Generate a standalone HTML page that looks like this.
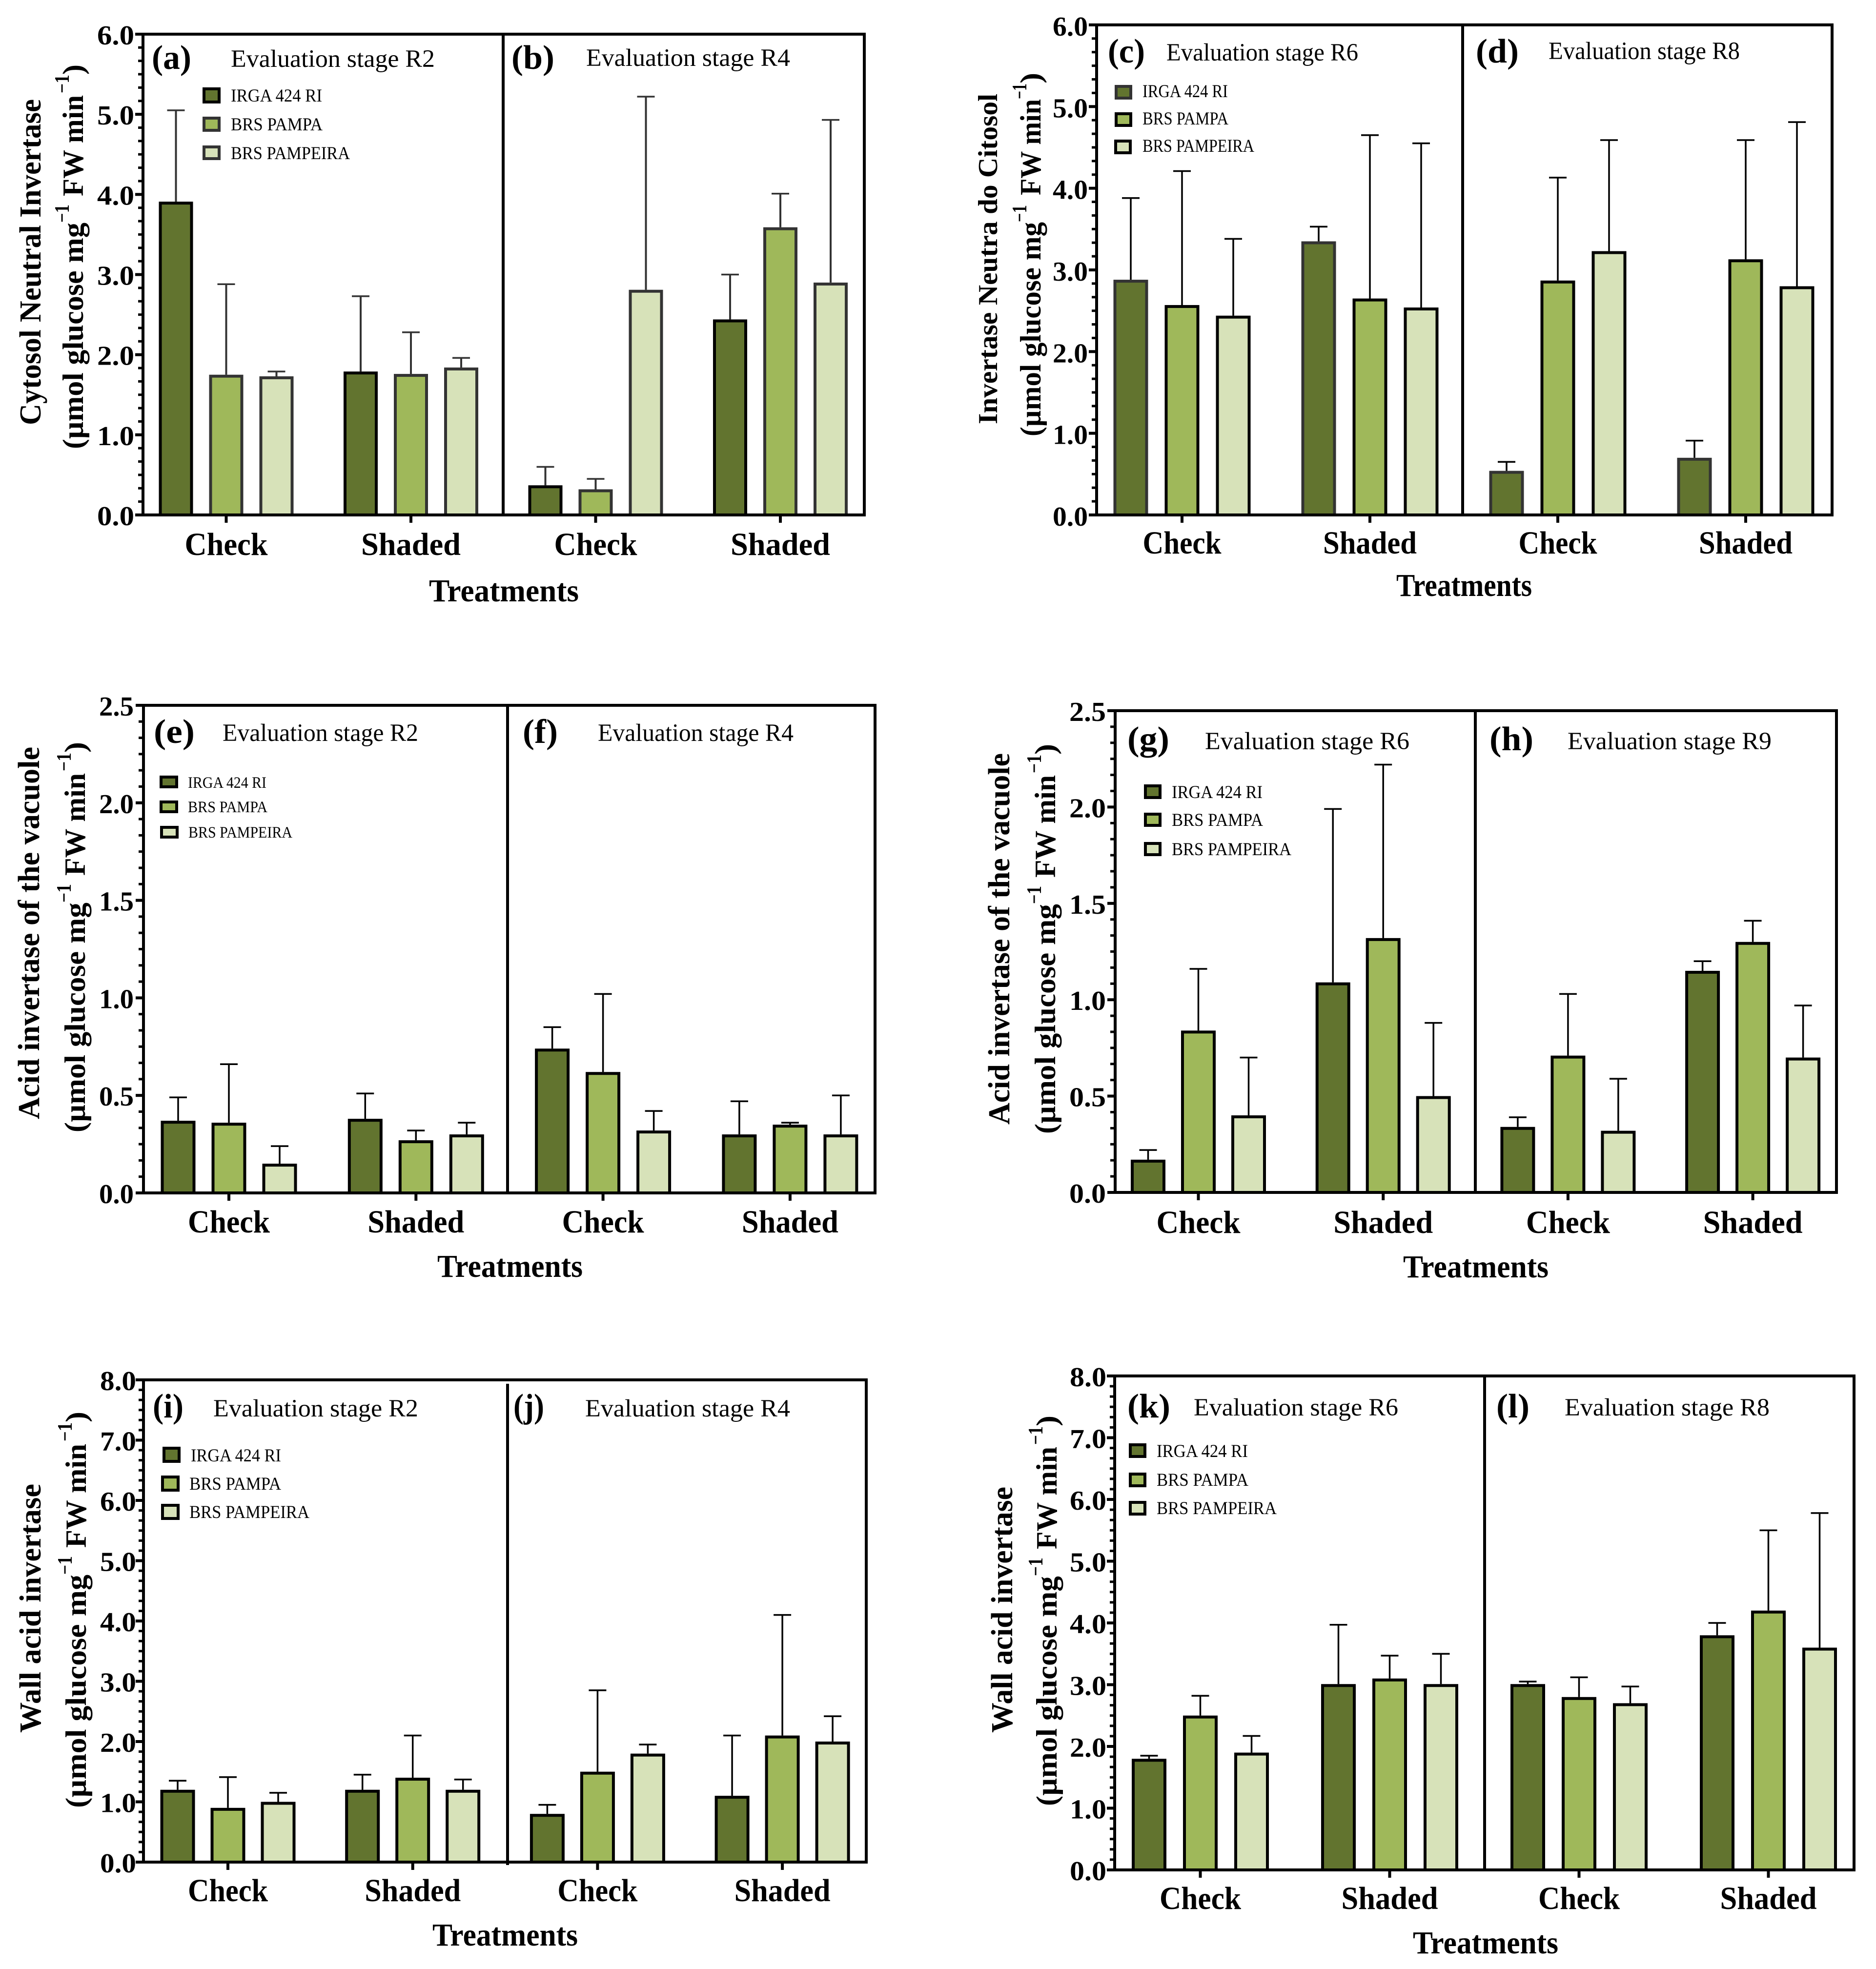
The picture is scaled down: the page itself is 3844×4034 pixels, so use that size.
<!DOCTYPE html>
<html lang="en">
<head>
<meta charset="utf-8">
<title>Invertase activity by evaluation stage</title>
<style>
html,body{margin:0;padding:0;background:#fff;}
svg{display:block;}
text{font-family:"Liberation Serif","DejaVu Serif",serif;fill:#000;}
.b{font-weight:bold;}
.yt{font-size:62px;font-weight:bold;}
.yt2{font-size:60px;font-weight:bold;}
.sup{font-size:42px;font-weight:bold;}
.tr{font-size:66px;font-weight:bold;}
.ltr{font-size:70px;font-weight:bold;}
.stg{font-size:51px;}
.lg{font-size:37px;}
.sw{stroke-width:6;}
</style>
</head>
<body>
<svg id="figure" xmlns="http://www.w3.org/2000/svg" width="3844" height="4034" viewBox="0 0 3844 4034">
<rect x="0" y="0" width="3844" height="4034" fill="#fff"/>
<g id="marks"></g>

<!-- Row 1 left: a, b -->
<text class="yt" transform="translate(83,871) rotate(-90)" textLength="668" lengthAdjust="spacingAndGlyphs">Cytosol Neutral Invertase</text>
<g>
<text class="yt2" transform="translate(170,920) rotate(-90)" textLength="464" lengthAdjust="spacingAndGlyphs">(µmol glucose mg</text>
<text class="sup" transform="translate(141,456) rotate(-90)" textLength="37" lengthAdjust="spacingAndGlyphs">−1</text>
<text class="yt2" transform="translate(170,402) rotate(-90)" textLength="207" lengthAdjust="spacingAndGlyphs">FW min</text>
<text class="sup" transform="translate(141,191) rotate(-90)" textLength="38" lengthAdjust="spacingAndGlyphs">−1</text>
<text class="yt2" transform="translate(170,153) rotate(-90)" textLength="21" lengthAdjust="spacingAndGlyphs">)</text>
</g>
<text class="tr" x="879" y="1232" textLength="307" lengthAdjust="spacingAndGlyphs">Treatments</text>
<text class="ltr" x="311" y="141" textLength="81" lengthAdjust="spacingAndGlyphs">(a)</text>
<text class="stg" x="473" y="137" textLength="418" lengthAdjust="spacingAndGlyphs">Evaluation stage R2</text>
<text class="ltr" x="1048" y="141" textLength="88" lengthAdjust="spacingAndGlyphs">(b)</text>
<text class="stg" x="1201" y="135" textLength="418" lengthAdjust="spacingAndGlyphs">Evaluation stage R4</text>
<g>
<rect class="sw" x="418" y="182" width="31" height="27" fill="#62742f" stroke="#000"/>
<text class="lg" x="473" y="208" textLength="187" lengthAdjust="spacingAndGlyphs">IRGA 424 RI</text>
<rect class="sw" x="418" y="242" width="31" height="25" fill="#9fb85a" stroke="#333"/>
<text class="lg" x="473" y="267" textLength="188" lengthAdjust="spacingAndGlyphs">BRS PAMPA</text>
<rect class="sw" x="418" y="301" width="31" height="24" fill="#d7e2b9" stroke="#333"/>
<text class="lg" x="473" y="326" textLength="244" lengthAdjust="spacingAndGlyphs">BRS PAMPEIRA</text>
</g>

<!-- Row 1 right: c, d -->
<text class="yt" style="font-size:56px" transform="translate(2043,869) rotate(-90)" textLength="677" lengthAdjust="spacingAndGlyphs">Invertase Neutra do Citosol</text>
<g>
<text class="yt2" transform="translate(2132,894) rotate(-90)" textLength="439" lengthAdjust="spacingAndGlyphs">(µmol glucose mg</text>
<text class="sup" transform="translate(2103,455) rotate(-90)" textLength="35" lengthAdjust="spacingAndGlyphs">−1</text>
<text class="yt2" transform="translate(2132,400) rotate(-90)" textLength="197" lengthAdjust="spacingAndGlyphs">FW min</text>
<text class="sup" transform="translate(2103,203) rotate(-90)" textLength="32" lengthAdjust="spacingAndGlyphs">−1</text>
<text class="yt2" transform="translate(2132,171) rotate(-90)" textLength="22" lengthAdjust="spacingAndGlyphs">)</text>
</g>
<text class="tr" x="2861" y="1221" textLength="278" lengthAdjust="spacingAndGlyphs">Treatments</text>
<text class="ltr" x="2270" y="128" textLength="76" lengthAdjust="spacingAndGlyphs">(c)</text>
<text class="stg" x="2390" y="124" textLength="393" lengthAdjust="spacingAndGlyphs">Evaluation stage R6</text>
<text class="ltr" x="3024" y="128" textLength="88" lengthAdjust="spacingAndGlyphs">(d)</text>
<text class="stg" x="3173" y="121" textLength="392" lengthAdjust="spacingAndGlyphs">Evaluation stage R8</text>
<g>
<rect class="sw" x="2287" y="177" width="30" height="24" fill="#62742f" stroke="#333"/>
<text class="lg" x="2341" y="199" textLength="175" lengthAdjust="spacingAndGlyphs">IRGA 424 RI</text>
<rect class="sw" x="2287" y="233" width="30" height="24" fill="#9fb85a" stroke="#000"/>
<text class="lg" x="2341" y="255" textLength="176" lengthAdjust="spacingAndGlyphs">BRS PAMPA</text>
<rect class="sw" x="2286" y="289" width="30" height="24" fill="#d7e2b9" stroke="#000"/>
<text class="lg" x="2341" y="311" textLength="229" lengthAdjust="spacingAndGlyphs">BRS PAMPEIRA</text>
</g>

<!-- Row 2 left: e, f -->
<text class="yt" transform="translate(80,2293) rotate(-90)" textLength="763" lengthAdjust="spacingAndGlyphs">Acid invertase of the vacuole</text>
<g>
<text class="yt2" transform="translate(174,2320) rotate(-90)" textLength="471" lengthAdjust="spacingAndGlyphs">(µmol glucose mg</text>
<text class="sup" transform="translate(145,1849) rotate(-90)" textLength="38" lengthAdjust="spacingAndGlyphs">−1</text>
<text class="yt2" transform="translate(174,1794) rotate(-90)" textLength="210" lengthAdjust="spacingAndGlyphs">FW min</text>
<text class="sup" transform="translate(145,1580) rotate(-90)" textLength="38" lengthAdjust="spacingAndGlyphs">−1</text>
<text class="yt2" transform="translate(174,1542) rotate(-90)" textLength="22" lengthAdjust="spacingAndGlyphs">)</text>
</g>
<text class="tr" x="896" y="2616" textLength="298" lengthAdjust="spacingAndGlyphs">Treatments</text>
<text class="ltr" x="315" y="1522" textLength="84" lengthAdjust="spacingAndGlyphs">(e)</text>
<text class="stg" x="456" y="1518" textLength="401" lengthAdjust="spacingAndGlyphs">Evaluation stage R2</text>
<text class="ltr" x="1071" y="1522" textLength="72" lengthAdjust="spacingAndGlyphs">(f)</text>
<text class="stg" x="1225" y="1518" textLength="401" lengthAdjust="spacingAndGlyphs">Evaluation stage R4</text>
<g>
<rect class="sw" x="330" y="1592" width="32" height="20" fill="#62742f" stroke="#000"/>
<text class="lg" style="font-size:33px" x="385" y="1614" textLength="161" lengthAdjust="spacingAndGlyphs">IRGA 424 RI</text>
<rect class="sw" x="330" y="1643" width="32" height="20" fill="#9fb85a" stroke="#000"/>
<text class="lg" style="font-size:33px" x="385" y="1664" textLength="163" lengthAdjust="spacingAndGlyphs">BRS PAMPA</text>
<rect class="sw" x="331" y="1695" width="32" height="20" fill="#d7e2b9" stroke="#000"/>
<text class="lg" style="font-size:33px" x="386" y="1716" textLength="213" lengthAdjust="spacingAndGlyphs">BRS PAMPEIRA</text>
</g>

<!-- Row 2 right: g, h -->
<text class="yt" transform="translate(2068,2304) rotate(-90)" textLength="761" lengthAdjust="spacingAndGlyphs">Acid invertase of the vacuole</text>
<g>
<text class="yt2" transform="translate(2162,2323) rotate(-90)" textLength="471" lengthAdjust="spacingAndGlyphs">(µmol glucose mg</text>
<text class="sup" transform="translate(2133,1852) rotate(-90)" textLength="37" lengthAdjust="spacingAndGlyphs">−1</text>
<text class="yt2" transform="translate(2162,1798) rotate(-90)" textLength="210" lengthAdjust="spacingAndGlyphs">FW min</text>
<text class="sup" transform="translate(2133,1584) rotate(-90)" textLength="38" lengthAdjust="spacingAndGlyphs">−1</text>
<text class="yt2" transform="translate(2162,1546) rotate(-90)" textLength="22" lengthAdjust="spacingAndGlyphs">)</text>
</g>
<text class="tr" x="2875" y="2617" textLength="298" lengthAdjust="spacingAndGlyphs">Treatments</text>
<text class="ltr" x="2310" y="1537" textLength="86" lengthAdjust="spacingAndGlyphs">(g)</text>
<text class="stg" x="2469" y="1535" textLength="419" lengthAdjust="spacingAndGlyphs">Evaluation stage R6</text>
<text class="ltr" x="3052" y="1537" textLength="90" lengthAdjust="spacingAndGlyphs">(h)</text>
<text class="stg" x="3212" y="1535" textLength="418" lengthAdjust="spacingAndGlyphs">Evaluation stage R9</text>
<g>
<rect class="sw" x="2347" y="1610" width="30" height="24" fill="#62742f" stroke="#000"/>
<text class="lg" x="2401" y="1635" textLength="186" lengthAdjust="spacingAndGlyphs">IRGA 424 RI</text>
<rect class="sw" x="2347" y="1668" width="30" height="23" fill="#9fb85a" stroke="#000"/>
<text class="lg" x="2401" y="1692" textLength="187" lengthAdjust="spacingAndGlyphs">BRS PAMPA</text>
<rect class="sw" x="2347" y="1728" width="30" height="23" fill="#d7e2b9" stroke="#000"/>
<text class="lg" x="2401" y="1752" textLength="245" lengthAdjust="spacingAndGlyphs">BRS PAMPEIRA</text>
</g>

<!-- Row 3 left: i, j -->
<text class="yt" transform="translate(83,3550) rotate(-90)" textLength="510" lengthAdjust="spacingAndGlyphs">Wall acid invertase</text>
<g>
<text class="yt2" transform="translate(176,3704) rotate(-90)" textLength="478" lengthAdjust="spacingAndGlyphs">(µmol glucose mg</text>
<text class="sup" transform="translate(147,3226) rotate(-90)" textLength="38" lengthAdjust="spacingAndGlyphs">−1</text>
<text class="yt2" transform="translate(176,3171) rotate(-90)" textLength="213" lengthAdjust="spacingAndGlyphs">FW min</text>
<text class="sup" transform="translate(147,2953) rotate(-90)" textLength="39" lengthAdjust="spacingAndGlyphs">−1</text>
<text class="yt2" transform="translate(176,2914) rotate(-90)" textLength="22" lengthAdjust="spacingAndGlyphs">)</text>
</g>
<text class="tr" x="886" y="3986" textLength="298" lengthAdjust="spacingAndGlyphs">Treatments</text>
<text class="ltr" x="313" y="2904" textLength="63" lengthAdjust="spacingAndGlyphs">(i)</text>
<text class="stg" x="437" y="2902" textLength="420" lengthAdjust="spacingAndGlyphs">Evaluation stage R2</text>
<text class="ltr" x="1052" y="2904" textLength="63" lengthAdjust="spacingAndGlyphs">(j)</text>
<text class="stg" x="1199" y="2902" textLength="420" lengthAdjust="spacingAndGlyphs">Evaluation stage R4</text>
<g>
<rect class="sw" x="336" y="2967" width="31" height="27" fill="#62742f" stroke="#000"/>
<text class="lg" x="391" y="2994" textLength="185" lengthAdjust="spacingAndGlyphs">IRGA 424 RI</text>
<rect class="sw" x="333" y="3026" width="32" height="27" fill="#9fb85a" stroke="#000"/>
<text class="lg" x="388" y="3052" textLength="188" lengthAdjust="spacingAndGlyphs">BRS PAMPA</text>
<rect class="sw" x="333" y="3084" width="32" height="27" fill="#d7e2b9" stroke="#000"/>
<text class="lg" x="388" y="3110" textLength="246" lengthAdjust="spacingAndGlyphs">BRS PAMPEIRA</text>
</g>

<!-- Row 3 right: k, l -->
<text class="yt" transform="translate(2074,3550) rotate(-90)" textLength="504" lengthAdjust="spacingAndGlyphs">Wall acid invertase</text>
<g>
<text class="yt2" transform="translate(2165,3700) rotate(-90)" textLength="471" lengthAdjust="spacingAndGlyphs">(µmol glucose mg</text>
<text class="sup" transform="translate(2136,3229) rotate(-90)" textLength="38" lengthAdjust="spacingAndGlyphs">−1</text>
<text class="yt2" transform="translate(2165,3174) rotate(-90)" textLength="210" lengthAdjust="spacingAndGlyphs">FW min</text>
<text class="sup" transform="translate(2136,2960) rotate(-90)" textLength="38" lengthAdjust="spacingAndGlyphs">−1</text>
<text class="yt2" transform="translate(2165,2922) rotate(-90)" textLength="22" lengthAdjust="spacingAndGlyphs">)</text>
</g>
<text class="tr" x="2884" y="4002" textLength="298" lengthAdjust="spacingAndGlyphs" dx="11">Treatments</text>
<text class="ltr" x="2310" y="2904" textLength="88" lengthAdjust="spacingAndGlyphs">(k)</text>
<text class="stg" x="2446" y="2900" textLength="419" lengthAdjust="spacingAndGlyphs">Evaluation stage R6</text>
<text class="ltr" x="3066" y="2904" textLength="68" lengthAdjust="spacingAndGlyphs">(l)</text>
<text class="stg" x="3206" y="2900" textLength="420" lengthAdjust="spacingAndGlyphs">Evaluation stage R8</text>
<g>
<rect class="sw" x="2316" y="2960" width="30" height="24" fill="#62742f" stroke="#000"/>
<text class="lg" x="2370" y="2985" textLength="187" lengthAdjust="spacingAndGlyphs">IRGA 424 RI</text>
<rect class="sw" x="2316" y="3020" width="30" height="24" fill="#9fb85a" stroke="#000"/>
<text class="lg" x="2370" y="3044" textLength="188" lengthAdjust="spacingAndGlyphs">BRS PAMPA</text>
<rect class="sw" x="2316" y="3078" width="30" height="24" fill="#d7e2b9" stroke="#000"/>
<text class="lg" x="2370" y="3102" textLength="246" lengthAdjust="spacingAndGlyphs">BRS PAMPEIRA</text>
</g>
</svg>

<script>
// ---------- chart data ----------
const categories = ['Check', 'Shaded'];
const seriesNames = ['IRGA 424 RI', 'BRS PAMPA', 'BRS PAMPEIRA'];

const ticksNeutral = [0, 1, 2, 3, 4, 5, 6];
const ticksAcid = [0, 0.5, 1, 1.5, 2, 2.5];
const ticksWall = [0, 1, 2, 3, 4, 5, 6, 7, 8];

// Values run: Check (three cultivars), then Shaded (three cultivars).
const meansA = [3.91, 1.75, 1.73, 1.79, 1.76, 1.84];
const uppersA = [5.05, 2.88, 1.79, 2.73, 2.28, 1.96];
const meansB = [0.37, 0.32, 2.81, 2.44, 3.59, 2.90];
const uppersB = [0.60, 0.45, 5.22, 3.00, 4.01, 4.93];
const meansC = [2.88, 2.57, 2.44, 3.35, 2.65, 2.54];
const uppersC = [3.88, 4.21, 3.38, 3.53, 4.65, 4.55];
const meansD = [0.54, 2.87, 3.23, 0.70, 3.13, 2.80];
const uppersD = [0.65, 4.13, 4.59, 0.91, 4.59, 4.81];
const meansE = [0.37, 0.36, 0.15, 0.38, 0.27, 0.30];
const uppersE = [0.49, 0.66, 0.24, 0.51, 0.32, 0.36];
const meansF = [0.74, 0.62, 0.32, 0.30, 0.35, 0.30];
const uppersF = [0.85, 1.02, 0.42, 0.47, 0.36, 0.50];
const meansG = [0.17, 0.84, 0.40, 1.09, 1.32, 0.50];
const uppersG = [0.22, 1.16, 0.70, 1.99, 2.22, 0.88];
const meansH = [0.34, 0.71, 0.32, 1.15, 1.30, 0.70];
const uppersH = [0.39, 1.03, 0.59, 1.20, 1.41, 0.97];
const meansI = [1.20, 0.90, 1.00, 1.20, 1.40, 1.20];
const uppersI = [1.35, 1.41, 1.15, 1.45, 2.10, 1.37];
const meansJ = [0.80, 1.50, 1.80, 1.10, 2.10, 2.00];
const uppersJ = [0.95, 2.85, 1.95, 2.10, 4.10, 2.42];
const meansK = [1.80, 2.50, 1.90, 3.01, 3.10, 3.01];
const uppersK = [1.85, 2.82, 2.17, 3.97, 3.47, 3.50];
const meansL = [3.01, 2.80, 2.70, 3.80, 4.20, 3.60];
const uppersL = [3.05, 3.12, 2.97, 4.00, 5.50, 5.78];

// ---------- layout ----------
const fills = ['#62742f', '#9fb85a', '#d7e2b9'];
const layouts = [
  { id: 'ab', ticks: ticksNeutral, axisX: 293, top: 70, bottom: 1055, divider: 1031, right: 1771,
    groupStart: 463.5, groupStep: 378.5, barStep: 103, barW: 70, labelX: 275, labelDy: 21, labelW: 76,
    catDy: 82, catW: [170, 204], borders: ['#000', '#333', '#333'], err: '#333', stem: 4,
    dividerTop: 0, dividerBottom: 0, panels: [['a', meansA, uppersA], ['b', meansB, uppersB]] },
  { id: 'cd', ticks: ticksNeutral, axisX: 2247, top: 51, bottom: 1055, divider: 2997, right: 3754,
    groupStart: 2422, groupStep: 385, barStep: 105, barW: 71, labelX: 2229, labelDy: 22, labelW: 72,
    catDy: 79, catW: [161, 192], borders: ['#333', '#000', '#000'], err: '#000', stem: 3.5,
    dividerTop: 0, dividerBottom: 0, panels: [['c', meansC, uppersC], ['d', meansD, uppersD]] },
  { id: 'ef', ticks: ticksAcid, axisX: 294, top: 1445, bottom: 2444, divider: 1040, right: 1793,
    groupStart: 469, groupStep: 383.3, barStep: 104, barW: 71, labelX: 274, labelDy: 21, labelW: 71,
    catDy: 81, catW: [168, 198], borders: ['#000', '#000', '#000'], err: '#000', stem: 3.5,
    dividerTop: 0, dividerBottom: 0, panels: [['e', meansE, uppersE], ['f', meansF, uppersF]] },
  { id: 'gh', ticks: ticksAcid, axisX: 2285, top: 1456, bottom: 2443, divider: 3023, right: 3763,
    groupStart: 2455.5, groupStep: 378.7, barStep: 103, barW: 71, labelX: 2266, labelDy: 21, labelW: 75,
    catDy: 83, catW: [172, 204], borders: ['#000', '#000', '#000'], err: '#000', stem: 3.5,
    dividerTop: 0, dividerBottom: 0, panels: [['g', meansG, uppersG], ['h', meansH, uppersH]] },
  { id: 'ij', ticks: ticksWall, axisX: 294, top: 2827, bottom: 3815, divider: 1040, right: 1775,
    groupStart: 467, groupStep: 378.7, barStep: 103, barW: 71, labelX: 279, labelDy: 21, labelW: 74,
    catDy: 80, catW: [164, 197], borders: ['#000', '#000', '#000'], err: '#000', stem: 3.5,
    dividerTop: 8, dividerBottom: 6, panels: [['i', meansI, uppersI], ['j', meansJ, uppersJ]] },
  { id: 'kl', ticks: ticksWall, axisX: 2284, top: 2819, bottom: 3831, divider: 3042, right: 3799,
    groupStart: 2459.5, groupStep: 388, barStep: 105, barW: 71, labelX: 2267, labelDy: 21, labelW: 75,
    catDy: 80, catW: [167, 198], borders: ['#000', '#000', '#000'], err: '#000', stem: 3.5,
    dividerTop: 0, dividerBottom: 0, panels: [['k', meansK, uppersK], ['l', meansL, uppersL]] }
];

// ---------- drawing ----------
const SVG_NS = 'http://www.w3.org/2000/svg';
const marks = document.getElementById('marks');

function shape(tag, parent, attrs) {
  const node = document.createElementNS(SVG_NS, tag);
  for (const key in attrs) node.setAttribute(key, attrs[key]);
  parent.appendChild(node);
  return node;
}

function drawRow(row) {
  const maxTick = row.ticks[row.ticks.length - 1];
  const yScale = v => row.bottom - (v / maxTick) * (row.bottom - row.top);
  const groupX = g => row.groupStart + g * row.groupStep;

  row.panels.forEach((panel, p) => {
    const letter = panel[0];
    const means = panel[1];
    const uppers = panel[2];
    const group = shape('g', marks, {});
    
    

    means.forEach((value, i) => {
      const cat = Math.floor(i / seriesNames.length);
      const ser = i % seriesNames.length;
      const cx = groupX(p * categories.length + cat) + (ser - 1) * row.barStep;
      const label = letter + '-' + categories[cat].toLowerCase() + '-' + (ser + 1);

      const stem = shape('line', group, { x1: cx, x2: cx, y1: yScale(uppers[i]), y2: yScale(value), stroke: row.err, 'stroke-width': row.stem });
      
      

      const cap = shape('line', group, { x1: cx - 18, x2: cx + 18, y1: yScale(uppers[i]), y2: yScale(uppers[i]), stroke: row.err, 'stroke-width': 3.5 });
      
      

      const bar = shape('rect', group, {
        x: cx - row.barW / 2 + 3, y: yScale(value) + 3,
        width: row.barW - 6, height: Math.max(0, row.bottom - yScale(value) - 3),
        fill: fills[ser], stroke: row.borders[ser], 'stroke-width': 6
      });
      
      
    });
  });

  const axes = shape('g', marks, { stroke: '#000', fill: 'none' });
  
  

  const frameTop = shape('line', axes, { x1: row.axisX - 16, x2: row.right + 3, y1: row.top, y2: row.top, 'stroke-width': 6 });
  
  

  const frameRight = shape('line', axes, { x1: row.right, x2: row.right, y1: row.top, y2: row.bottom, 'stroke-width': 6 });
  
  

  const yAxis = shape('line', axes, { x1: row.axisX, x2: row.axisX, y1: row.top, y2: row.bottom, 'stroke-width': 6 });
  
  

  const xAxis = shape('line', axes, { x1: row.axisX - 16, x2: row.right + 3, y1: row.bottom, y2: row.bottom, 'stroke-width': 6 });
  
  

  const divider = shape('line', axes, { x1: row.divider, x2: row.divider, y1: row.top + row.dividerTop, y2: row.bottom + row.dividerBottom, 'stroke-width': 6 });
  
  

  row.ticks.forEach((value, i) => {
    const y = yScale(value);
    const major = shape('line', axes, { x1: row.axisX - 16, x2: row.axisX, y1: y, y2: y, 'stroke-width': 6 });
    
    

    const tickLabel = shape('text', marks, {
      x: row.labelX, y: y + row.labelDy, 'text-anchor': 'end', 'font-size': 56, 'font-weight': 'bold',
      textLength: row.labelW, lengthAdjust: 'spacingAndGlyphs'
    });
    tickLabel.textContent = value.toFixed(1);
    
    

    if (i < row.ticks.length - 1) {
      const next = row.ticks[i + 1];
      for (let m = 1; m < 6; m++) {
        const my = yScale(value + (next - value) * m / 6);
        const minor = shape('line', axes, { x1: row.axisX - 10, x2: row.axisX, y1: my, y2: my, 'stroke-width': 5 });
        
        
      }
    }
  });

  for (let g = 0; g < row.panels.length * categories.length; g++) {
    const x = groupX(g);
    const catIndex = g % categories.length;
    const tick = shape('line', axes, { x1: x, x2: x, y1: row.bottom, y2: row.bottom + 16, 'stroke-width': 6 });
    
    

    const catLabel = shape('text', marks, {
      x: x, y: row.bottom + row.catDy, 'text-anchor': 'middle', 'font-size': 66, 'font-weight': 'bold',
      textLength: row.catW[catIndex], lengthAdjust: 'spacingAndGlyphs'
    });
    catLabel.textContent = categories[catIndex];
    
    
  }
}

layouts.forEach(drawRow);
</script>
</body>
</html>
